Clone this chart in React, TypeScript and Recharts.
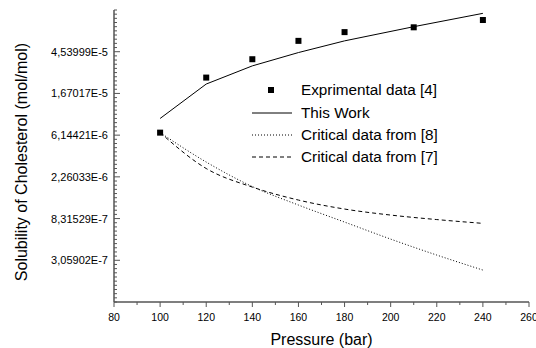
import { ComposedChart, Line, Scatter, XAxis, YAxis } from 'recharts';

// experimental points [4]
const PRESSURE_EXP = [100, 120, 140, 160, 180, 210, 240];
const SOL_EXP = [6.524e-6, 2.442e-5, 3.792e-5, 5.888e-5, 7.264e-5, 8.15e-5, 9.708e-5];

// model ("This Work")
const PRESSURE_WORK = [100, 120, 140, 160, 180, 210, 240];
const SOL_WORK = [9.166e-6, 2.092e-5, 3.232e-5, 4.45e-5, 5.888e-5, 8.272e-5, 1.139e-4];

// critical data curves
const PRESSURE_CRIT = [100, 120, 140, 160, 180, 200, 220, 240];
const SOL_CRIT8 = [6.524e-6, 3.224e-6, 1.791e-6, 1.15e-6, 7.645e-7, 5.084e-7, 3.466e-7, 2.419e-7];
const SOL_CRIT7 = [6.524e-6, 2.761e-6, 1.769e-6, 1.296e-6, 1.045e-6, 9.044e-7, 8.118e-7, 7.412e-7];

const Y_MAJOR = [3.05902e-7, 8.31529e-7, 2.26033e-6, 6.14421e-6, 1.67017e-5, 4.53999e-5];
const Y_LABELS = ['3,05902E-7', '8,31529E-7', '2,26033E-6', '6,14421E-6', '1,67017E-5', '4,53999E-5'];
const Y_DOMAIN = [1.12535e-7, 1.2341e-4];

const X_TICKS = [80, 90, 100, 110, 120, 130, 140, 150, 160, 170, 180, 190, 200, 210, 220, 230, 240, 250, 260];
const X_LABELS = ['80', '', '100', '', '120', '', '140', '', '160', '', '180', '', '200', '', '220', '', '240', '', '260'];

const FONT = '"Liberation Sans", Arial, sans-serif';
const AXIS = '#555';

const expData = PRESSURE_EXP.map((p, i) => ({ p, y: SOL_EXP[i] }));
const workData = PRESSURE_WORK.map((p, i) => ({ p, y: SOL_WORK[i] }));
const crit8Data = PRESSURE_CRIT.map((p, i) => ({ p, y: SOL_CRIT8[i] }));
const crit7Data = PRESSURE_CRIT.map((p, i) => ({ p, y: SOL_CRIT7[i] }));

// minor ticks: 10 per ln-decade between e^-16 and e^-9
const yTicks = Array.from({ length: 71 }, (_, i) => Math.exp(-16 + i / 10));

const YTick = ({ x, y, payload }: any) => {
    const idx = Y_MAJOR.findIndex(m => Math.abs(payload.value / m - 1) < 1e-3);
    const major = idx >= 0;
    return (
        <g>
            <line x1={x} x2={x + (major ? 6 : 3)} y1={y} y2={y} stroke={AXIS} strokeWidth={1} />
            {major && (
                <text x={x - 6} y={y} textAnchor="end" dominantBaseline="central" fontSize={11} fontFamily={FONT} fill="#000">
                    {Y_LABELS[idx]}
                </text>
            )}
        </g>
    );
};

const XTick = ({ x, y, payload }: any) => {
    const idx = X_TICKS.indexOf(payload.value);
    const label = X_LABELS[idx];
    return (
        <g>
            <line x1={x} x2={x} y1={y} y2={y + (label ? 5 : 3)} stroke={AXIS} strokeWidth={1} />
            {label && (
                <text x={x} y={y + 14.5} textAnchor="middle" dominantBaseline="central" fontSize={10.5} fontFamily={FONT} fill="#000">
                    {label}
                </text>
            )}
        </g>
    );
};

const Square = ({ cx, cy }: any) => <rect x={cx - 3} y={cy - 3} width={6} height={6} fill="#000" />;

const legendRows = [
    { label: 'Exprimental data [4]', kind: 'square' },
    { label: 'This Work', kind: 'solid' },
    { label: 'Critical data from [8]', kind: 'dotted' },
    { label: 'Critical data from [7]', kind: 'dashed' },
];

export default function App() {
    return (
        <div style={{ position: 'absolute', left: 0, top: 0, width: 536, height: 348, background: '#fff', fontFamily: FONT }}>
            <ComposedChart width={536} height={348} margin={{ top: 10, right: 7, left: 0, bottom: 0 }}>
                <XAxis dataKey="p" type="number" domain={[80, 260]} ticks={X_TICKS} interval={0}
                    tickSize={0} tickMargin={0} tickLine={false} tick={<XTick />} height={46}
                    axisLine={{ stroke: AXIS, strokeWidth: 1.5 }} allowDataOverflow />
                <XAxis xAxisId="top" orientation="top" type="number" domain={[80, 260]} tick={false} tickLine={false}
                    height={0} axisLine={{ stroke: AXIS, strokeWidth: 1.5 }} />
                <YAxis dataKey="y" type="number" scale="log" domain={Y_DOMAIN} ticks={yTicks} interval={0}
                    tickSize={0} tickMargin={0} tickLine={false} tick={<YTick />} width={114}
                    axisLine={{ stroke: AXIS, strokeWidth: 1.5 }} allowDataOverflow />
                <YAxis yAxisId="right" orientation="right" type="number" scale="log" domain={Y_DOMAIN} tick={false}
                    tickLine={false} width={0} axisLine={{ stroke: AXIS, strokeWidth: 1.5 }} allowDataOverflow />
                <Line data={crit8Data} dataKey="y" type="monotone" stroke="#000" strokeWidth={1}
                    strokeDasharray="1 2" dot={false} isAnimationActive={false} />
                <Line data={crit7Data} dataKey="y" type="monotone" stroke="#000" strokeWidth={1}
                    strokeDasharray="4 3" dot={false} isAnimationActive={false} />
                <Line data={workData} dataKey="y" type="linear" stroke="#000" strokeWidth={1}
                    dot={false} isAnimationActive={false} />
                <Scatter data={expData} dataKey="y" shape={<Square />} isAnimationActive={false} />
            </ComposedChart>

            {/* legend inside plot */}
            <div style={{ position: 'absolute', left: 251, top: 79, fontSize: 15.3, color: '#000' }}>
                {legendRows.map(r => (
                    <div key={r.label} style={{ display: 'flex', alignItems: 'center', height: 22.4 }}>
                        <svg width={50} height={12} style={{ display: 'block' }}>
                            {r.kind === 'square'
                                ? <rect x={17} y={3} width={6} height={6} fill="#000" />
                                : <line x1={1} x2={41} y1={6} y2={6} stroke="#000" strokeWidth={1}
                                    strokeDasharray={r.kind === 'dotted' ? '1 2' : r.kind === 'dashed' ? '4 3' : undefined} />}
                        </svg>
                        <span style={{ whiteSpace: 'nowrap' }}>{r.label}</span>
                    </div>
                ))}
            </div>

            <div style={{ position: 'absolute', left: 321.5, top: 339.5, transform: 'translate(-50%, -50%)', fontSize: 16, whiteSpace: 'nowrap', color: '#000' }}>
                Pressure (bar)
            </div>
            <div style={{ position: 'absolute', left: 22, top: 162, transform: 'translate(-50%, -50%) rotate(-90deg)', fontSize: 16, whiteSpace: 'nowrap', color: '#000' }}>
                Solubility of Cholesterol (mol/mol)
            </div>
        </div>
    );
}
